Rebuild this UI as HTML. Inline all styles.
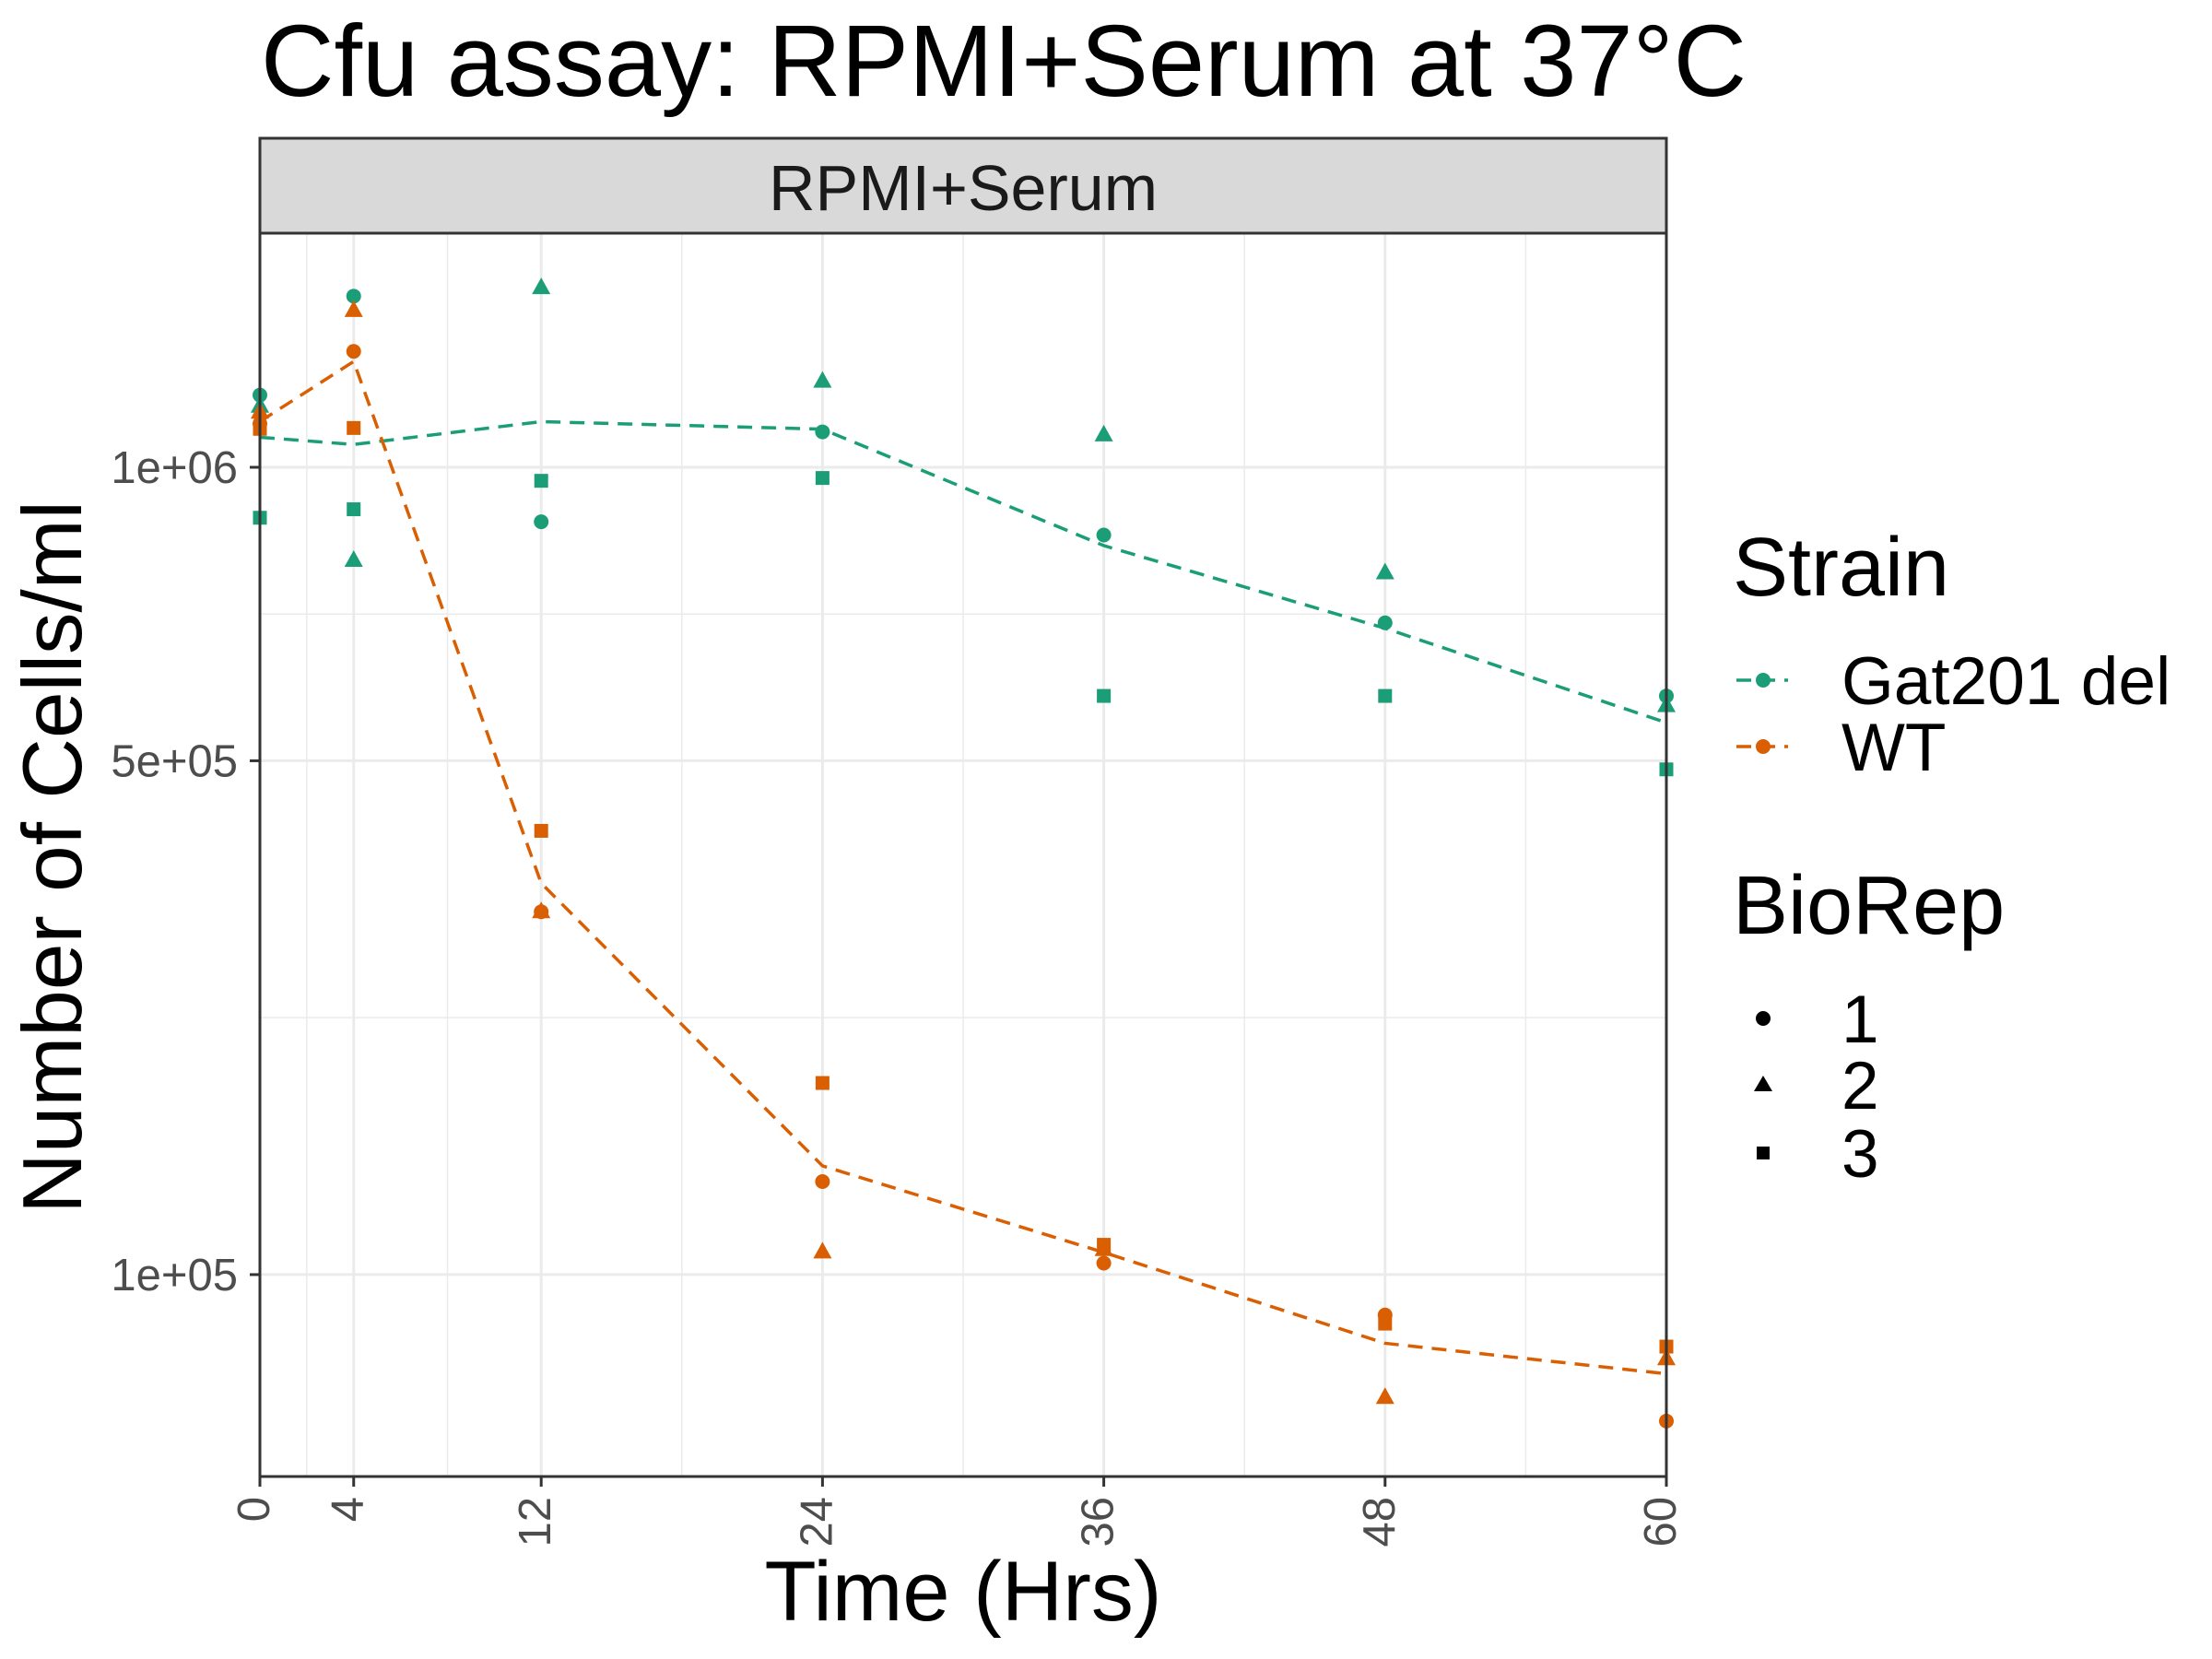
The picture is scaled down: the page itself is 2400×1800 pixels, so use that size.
<!DOCTYPE html>
<html><head><meta charset="utf-8"><style>
html,body{margin:0;padding:0;background:#fff;}
svg{display:block;font-family:"Liberation Sans",Arial,sans-serif;}
</style></head><body>
<svg id="chart" width="2400" height="1800" viewBox="0 0 2400 1800">
<rect width="2400" height="1800" fill="#fff"/>
<text x="283" y="104" font-size="110" fill="#000">Cfu assay: RPMI+Serum at 37°C</text>
<g id="grid"></g>
<rect x="282" y="150" width="1526" height="103" fill="#d9d9d9" stroke="#333" stroke-width="3"/>
<text x="1045" y="228" font-size="70" text-anchor="middle" fill="#1a1a1a">RPMI+Serum</text>
<g id="marks"></g>
<rect x="282" y="253" width="1526" height="1349" fill="none" stroke="#333" stroke-width="3"/>
<g id="axes"></g>
<text transform="translate(88,930) rotate(-90)" font-size="91" text-anchor="middle" fill="#000">Number of Cells/ml</text>
<text x="1045" y="1758" font-size="92" text-anchor="middle" fill="#000">Time (Hrs)</text>
<g>
<text x="1880" y="646" font-size="90" fill="#000">Strain</text>
<g>
<line x1="1884" y1="738" x2="1940" y2="738" stroke="#1b9e77" stroke-width="3.5" stroke-dasharray="16,10"/>
<circle cx="1913" cy="738" r="8" fill="#1b9e77"/>
<text x="1998" y="764" font-size="73" fill="#000">Gat201 del</text></g>
<g>
<line x1="1884" y1="810" x2="1940" y2="810" stroke="#d95f02" stroke-width="3.5" stroke-dasharray="16,10"/>
<circle cx="1913" cy="810" r="8" fill="#d95f02"/>
<text x="1998" y="836" font-size="73" fill="#000">WT</text></g>
<text x="1880" y="1013" font-size="90" fill="#000">BioRep</text>
<g>
<circle cx="1913" cy="1105" r="8" fill="#000"/>
<text x="1998" y="1131" font-size="73" fill="#000">1</text></g>
<g>
<polygon points="1913,1167 1923,1184 1903,1184" fill="#000"/>
<text x="1998" y="1203" font-size="73" fill="#000">2</text></g>
<g>
<rect x="1906" y="1244" width="14" height="14" fill="#000"/>
<text x="1998" y="1277" font-size="73" fill="#000">3</text></g>
</g>
</svg>
<script>
const times = [0, 4, 12, 24, 36, 48, 60];
const xTicks = [0, 4, 12, 24, 36, 48, 60];
const xMinor = [2, 8, 18, 30, 42, 54];
const yTicks = [1e5, 5e5, 1e6];
const yTickLabels = ["1e+05", "5e+05", "1e+06"];
const gatRep1 = [1166000, 1426000, 887000, 1079000, 861000, 703000, 589000];
const gatRep2 = [1139000, 813000, 1450000, 1200000, 1072000, 790000, 575000];
const gatRep3 = [895000, 912000, 971000, 977000, 589000, 589000, 489000];
const wtRep1 = [1098000, 1276000, 332000, 141000, 104500, 85300, 54400];
const wtRep2 = [1125000, 1386000, 332000, 109000, 110000, 60400, 71300];
const wtRep3 = [1086000, 1088000, 415600, 197000, 112000, 82400, 75000];

const NS = "http://www.w3.org/2000/svg";
const X0 = 282, X1 = 1808, Y0 = 253, Y1 = 1602;
function xS(t){ return X0 + t * (X1 - X0) / 60; }
function yS(v){ return 507 - (Math.pow(v, 0.25) - Math.pow(1e6, 0.25)) * 63.29; }
function mk(tag, attrs, parent){ const e = document.createElementNS(NS, tag); for (const k in attrs) e.setAttribute(k, attrs[k]); parent.appendChild(e); return e; }

const grid = document.getElementById('grid');
mk('rect', {x:X0, y:Y0, width:X1-X0, height:Y1-Y0, fill:'#fff'}, grid);
xMinor.forEach(t => { const l = mk('line', {x1:xS(t), x2:xS(t), y1:Y0, y2:Y1, stroke:'#ebebeb', 'stroke-width':1.5}, grid);

 });
const yt = yTicks.map(v => Math.pow(v, 0.25));
const yMinorVals = [(yt[0]+yt[1])/2, (yt[1]+yt[2])/2].map(u => Math.pow(u,4));
yMinorVals.forEach(v => { const l = mk('line', {x1:X0, x2:X1, y1:yS(v), y2:yS(v), stroke:'#ebebeb', 'stroke-width':1.5}, grid);

 });
xTicks.forEach(t => { const l = mk('line', {x1:xS(t), x2:xS(t), y1:Y0, y2:Y1, stroke:'#ebebeb', 'stroke-width':3}, grid);

 });
yTicks.forEach(v => { const l = mk('line', {x1:X0, x2:X1, y1:yS(v), y2:yS(v), stroke:'#ebebeb', 'stroke-width':3}, grid);

 });

const axes = document.getElementById('axes');
xTicks.forEach(t => {
  const tk = mk('line', {x1:xS(t), x2:xS(t), y1:Y1, y2:Y1+11, stroke:'#333', 'stroke-width':3}, axes);
  
  
  const tx = mk('text', {transform:`translate(${xS(t)+10},${Y1+22}) rotate(-90)`, 'font-size':49, fill:'#4d4d4d', 'text-anchor':'end'}, axes);
  tx.textContent = String(t);
  
  
});
yTicks.forEach((v, i) => {
  const tk = mk('line', {x1:X0-11, x2:X0, y1:yS(v), y2:yS(v), stroke:'#333', 'stroke-width':3}, axes);
  
  
  const tx = mk('text', {x:X0-24, y:yS(v)+17, 'font-size':49, fill:'#4d4d4d', 'text-anchor':'end'}, axes);
  tx.textContent = yTickLabels[i];
  
  
});

const marks = document.getElementById('marks');
function drawSeries(reps, color, name){
  const means = times.map((t, i) => reps.reduce((s, r) => s + r[i], 0) / reps.length);
  const pl = mk('polyline', {points: times.map((t,i) => xS(t)+','+yS(means[i])).join(' '), fill:'none', stroke:color, 'stroke-width':3.5, 'stroke-dasharray':'16,10'}, marks);
  
  
  reps.forEach((r, ri) => r.forEach((v, i) => {
    const cx = xS(times[i]), cy = yS(v);
    let e;
    if (ri === 0) e = mk('circle', {cx:cx, cy:cy, r:8, fill:color}, marks);
    else if (ri === 1) e = mk('polygon', {points:`${cx},${cy-11} ${cx+10},${cy+7} ${cx-10},${cy+7}`, fill:color}, marks);
    else e = mk('rect', {x:cx-7.5, y:cy-7.5, width:15, height:15, fill:color}, marks);
    
    
  }));
}
drawSeries([gatRep1, gatRep2, gatRep3], '#1b9e77', 'gat201');
drawSeries([wtRep1, wtRep2, wtRep3], '#d95f02', 'wt');
</script>
</body></html>
